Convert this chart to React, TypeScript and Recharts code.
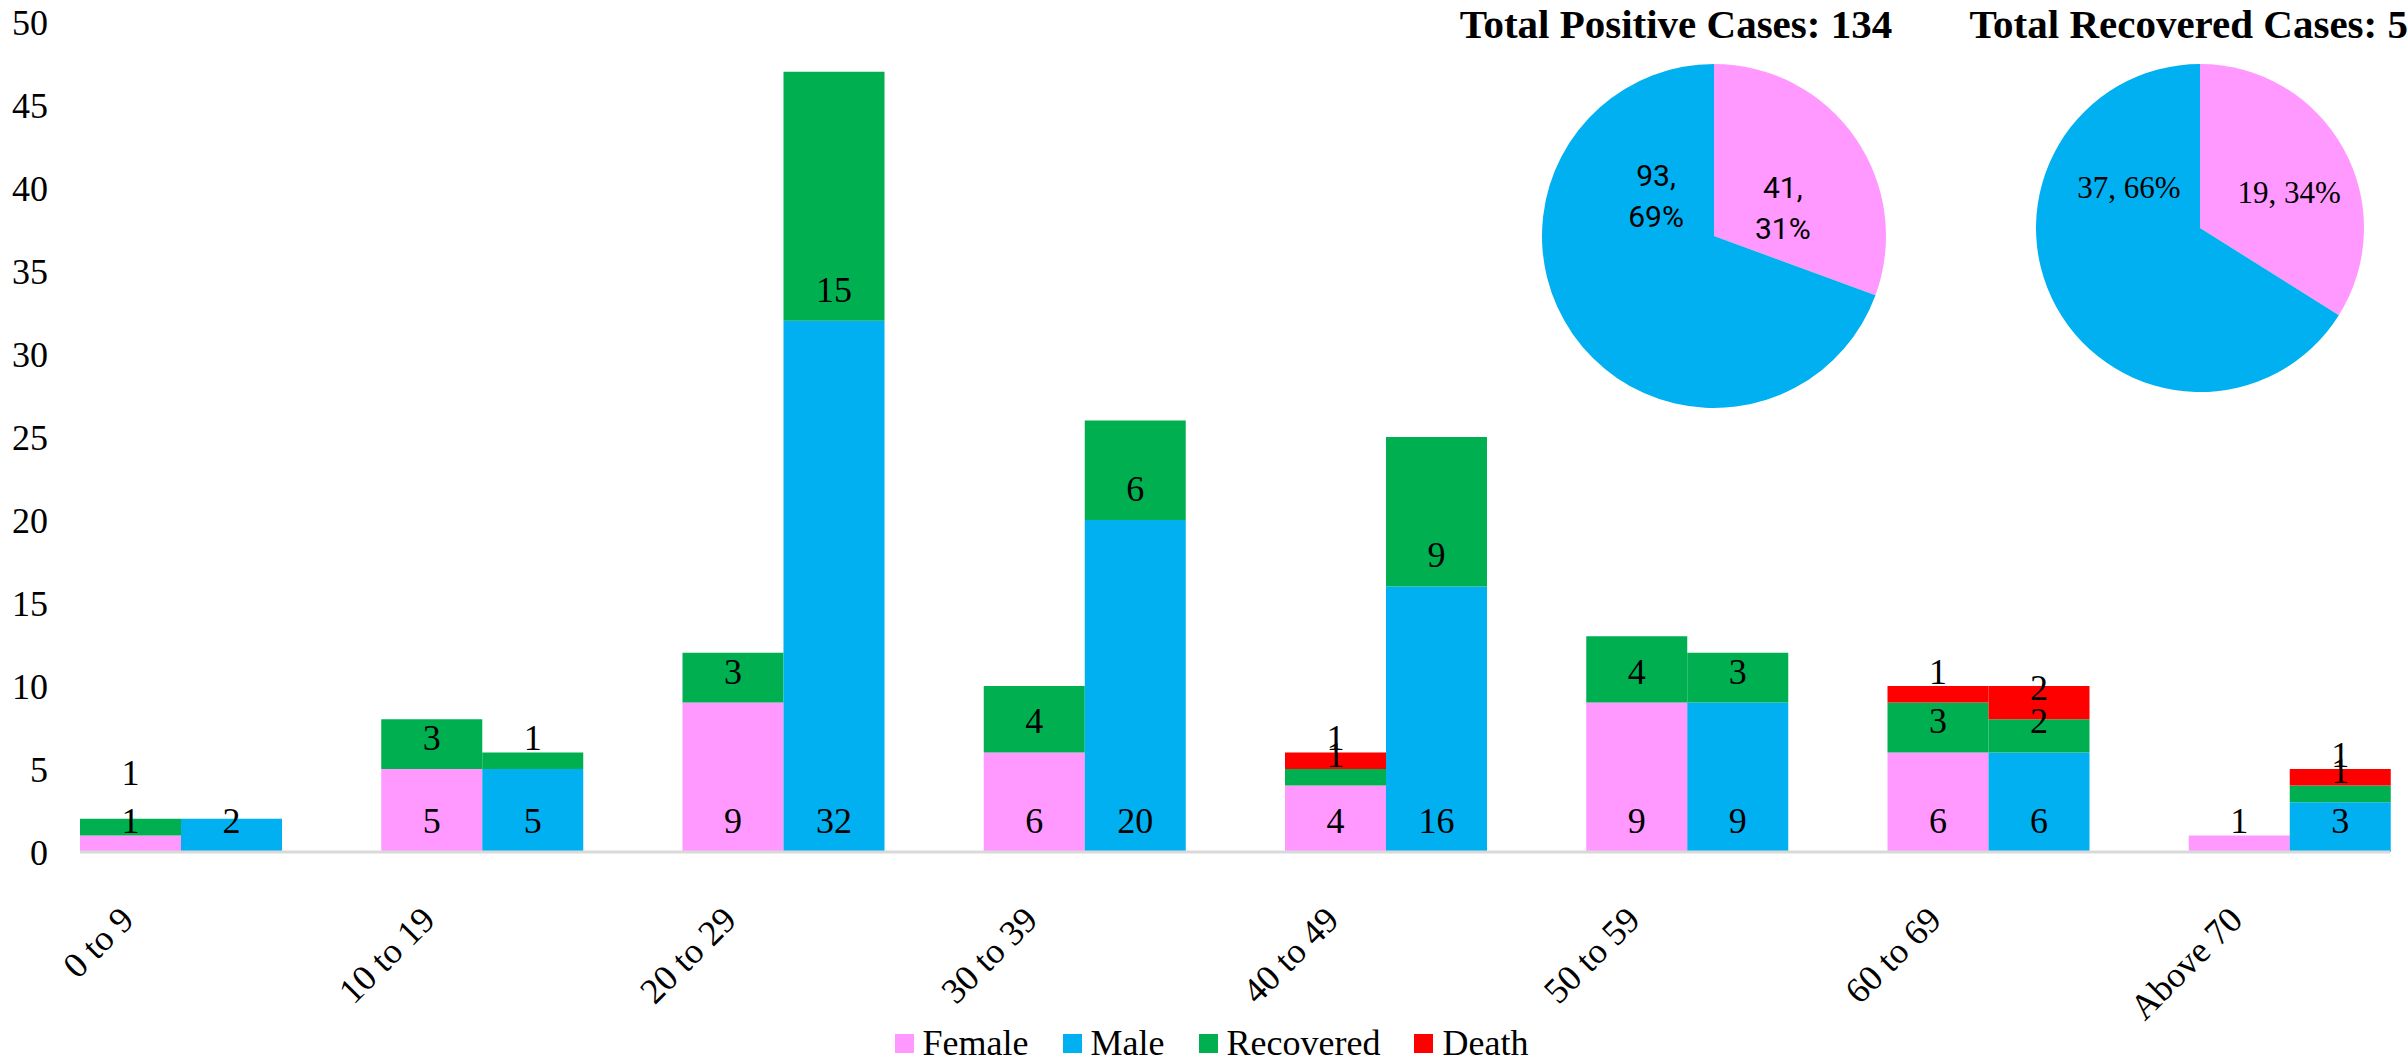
import React from "react";
import { Bar, BarChart, Cell, LabelList, Legend, Pie, PieChart, XAxis, YAxis } from "recharts";

const ageGroups = ["0 to 9", "10 to 19", "20 to 29", "30 to 39", "40 to 49", "50 to 59", "60 to 69", "Above 70"];
const female = [1, 5, 9, 6, 4, 9, 6, 1];
const femaleRecovered = [1, 3, 3, 4, 1, 4, 3, 0];
const femaleDeath = [0, 0, 0, 0, 1, 0, 1, 0];
const male = [2, 5, 32, 20, 16, 9, 6, 3];
const maleRecovered = [0, 1, 15, 6, 9, 3, 2, 1];
const maleDeath = [0, 0, 0, 0, 0, 0, 2, 1];
const yTicks = [0, 5, 10, 15, 20, 25, 30, 35, 40, 45, 50];

const PINK = "#FF99FF";
const BLUE = "#00B0F0";
const GREEN = "#00B050";
const RED = "#FF0000";
const SERIF = "'Liberation Serif', 'Times New Roman', serif";

const sum = (a: number[]) => a.reduce((s, v) => s + v, 0);

const rows = ageGroups.map((age, i) => ({
  age,
  female: female[i],
  femaleRecovered: femaleRecovered[i],
  femaleDeath: femaleDeath[i],
  male: male[i],
  maleRecovered: maleRecovered[i],
  maleDeath: maleDeath[i],
}));

const positiveSlices = [
  { name: "Female", value: sum(female) },
  { name: "Male", value: sum(male) },
];
const recoveredSlices = [
  { name: "Female", value: sum(femaleRecovered) },
  { name: "Male", value: sum(maleRecovered) },
];

// a few labels were pushed up in the original to avoid overlapping
const labelLift: Record<string, number> = { "femaleRecovered-0": 31, "maleDeath-7": 17 };

function baseLabel(key: string) {
  return (props: any) => {
    const vb = props.viewBox ?? props;
    const { value, index } = props;
    if (!value) return null;
    const lift = 31 + (labelLift[`${key}-${index}`] ?? 0);
    return (
      <text
        x={vb.x + vb.width / 2}
        y={vb.y + vb.height - lift}
        textAnchor="middle"
        dominantBaseline="central"
        fontFamily={SERIF}
        fontSize={36}
        fill="#000"
      >
        {value}
      </text>
    );
  };
}

function AgeTick(props: any) {
  const { x, y, payload } = props;
  const ax = x - 45;
  const ay = y + 62;
  return (
    <text
      x={ax}
      y={ay}
      transform={`rotate(-45 ${ax} ${ay})`}
      textAnchor="end"
      fontFamily={SERIF}
      fontSize={36}
      fill="#000"
    >
      {payload.value}
    </text>
  );
}

const legendItems = [
  { label: "Female", color: PINK },
  { label: "Male", color: BLUE },
  { label: "Recovered", color: GREEN },
  { label: "Death", color: RED },
];

function LegendBox() {
  return (
    <div
      style={{
        height: 40,
        display: "flex",
        justifyContent: "center",
        alignItems: "center",
        paddingLeft: 33,
        fontFamily: SERIF,
        fontSize: 36,
        lineHeight: "40px",
        color: "#000",
      }}
    >
      {legendItems.map((item, i) => (
        <div key={item.label} style={{ display: "flex", alignItems: "center", marginLeft: i ? 34 : 0 }}>
          <span style={{ width: 19, height: 19, background: item.color, marginRight: 9, display: "inline-block" }} />
          <span>{item.label}</span>
        </div>
      ))}
    </div>
  );
}

function pieLabel(spots: { dx: number; dy: number }[], twoLines: boolean, font: string, size: number) {
  return (props: any) => {
    const { cx, cy, outerRadius, index, value, percent } = props;
    const s = spots[index];
    const x = cx + s.dx * outerRadius;
    const y = cy + s.dy * outerRadius;
    const pct = `${Math.round(percent * 100)}%`;
    if (twoLines) {
      return (
        <text x={x} y={y} textAnchor="middle" fontFamily={font} fontSize={size} fill="#000">
          <tspan x={x} dy={-20.5 + size * 0.35}>{`${value},`}</tspan>
          <tspan x={x} dy={41}>{pct}</tspan>
        </text>
      );
    }
    return (
      <text x={x} y={y} textAnchor="middle" dominantBaseline="central" fontFamily={font} fontSize={size} fill="#000">
        {`${value}, ${pct}`}
      </text>
    );
  };
}

const positiveSpots = [
  { dx: 0.4, dy: -0.163 },
  { dx: -0.337, dy: -0.23 },
];
const recoveredSpots = [
  { dx: 0.543, dy: -0.216 },
  { dx: -0.433, dy: -0.247 },
];

export default function App() {
  return (
    <div style={{ position: "absolute", left: 0, top: 0, width: 2408, height: 1063, overflow: "hidden", background: "#fff" }}>
      <BarChart
        width={2408}
        height={1063}
        data={rows}
        margin={{ top: 22, right: 18, left: 0, bottom: 0 }}
        barCategoryGap={50}
        barGap={0}
      >
        <XAxis
          dataKey="age"
          interval={0}
          height={171}
          tickLine={false}
          axisLine={{ stroke: "#D9D9D9", strokeWidth: 3 }}
          padding={{ left: -50, right: -50 }}
          tick={<AgeTick />}
        />
        <YAxis
          domain={[0, 50]}
          ticks={yTicks}
          interval={0}
          width={80}
          axisLine={false}
          tickLine={false}
          tickMargin={26}
          tick={{ fontFamily: SERIF, fontSize: 36, fill: "#000" }}
        />
        <Legend verticalAlign="bottom" content={() => <LegendBox />} />
        <Bar dataKey="female" stackId="f" fill={PINK} isAnimationActive={false}>
          <LabelList dataKey="female" content={baseLabel("female")} />
        </Bar>
        <Bar dataKey="femaleRecovered" stackId="f" fill={GREEN} isAnimationActive={false}>
          <LabelList dataKey="femaleRecovered" content={baseLabel("femaleRecovered")} />
        </Bar>
        <Bar dataKey="femaleDeath" stackId="f" fill={RED} isAnimationActive={false}>
          <LabelList dataKey="femaleDeath" content={baseLabel("femaleDeath")} />
        </Bar>
        <Bar dataKey="male" stackId="m" fill={BLUE} isAnimationActive={false}>
          <LabelList dataKey="male" content={baseLabel("male")} />
        </Bar>
        <Bar dataKey="maleRecovered" stackId="m" fill={GREEN} isAnimationActive={false}>
          <LabelList dataKey="maleRecovered" content={baseLabel("maleRecovered")} />
        </Bar>
        <Bar dataKey="maleDeath" stackId="m" fill={RED} isAnimationActive={false}>
          <LabelList dataKey="maleDeath" content={baseLabel("maleDeath")} />
        </Bar>
      </BarChart>

      <div style={{ position: "absolute", left: 1440, top: 0 }}>
        <PieChart width={968} height={440}>
          <Pie
            data={positiveSlices}
            dataKey="value"
            cx={269}
            cy={231}
            outerRadius={172}
            startAngle={90}
            endAngle={-270}
            stroke="none"
            labelLine={false}
            label={pieLabel(positiveSpots, true, "Roboto, 'Noto Sans', sans-serif", 30)}
            isAnimationActive={false}
          >
            <Cell fill={PINK} />
            <Cell fill={BLUE} />
          </Pie>
          <Pie
            data={recoveredSlices}
            dataKey="value"
            cx={755}
            cy={223}
            outerRadius={164}
            startAngle={90}
            endAngle={-270}
            stroke="none"
            labelLine={false}
            label={pieLabel(recoveredSpots, false, SERIF, 31)}
            isAnimationActive={false}
          >
            <Cell fill={PINK} />
            <Cell fill={BLUE} />
          </Pie>
        </PieChart>
      </div>

      <svg width={2408} height={60} style={{ position: "absolute", left: 0, top: 0 }}>
        <text x={1676} y={38} textAnchor="middle" fontFamily={SERIF} fontWeight="bold" fontSize={41} fill="#000">
          {`Total Positive Cases: ${sum(female) + sum(male)}`}
        </text>
        <text x={2199} y={38} textAnchor="middle" fontFamily={SERIF} fontWeight="bold" fontSize={41} fill="#000">
          {`Total Recovered Cases: ${sum(femaleRecovered) + sum(maleRecovered)}`}
        </text>
      </svg>
    </div>
  );
}
